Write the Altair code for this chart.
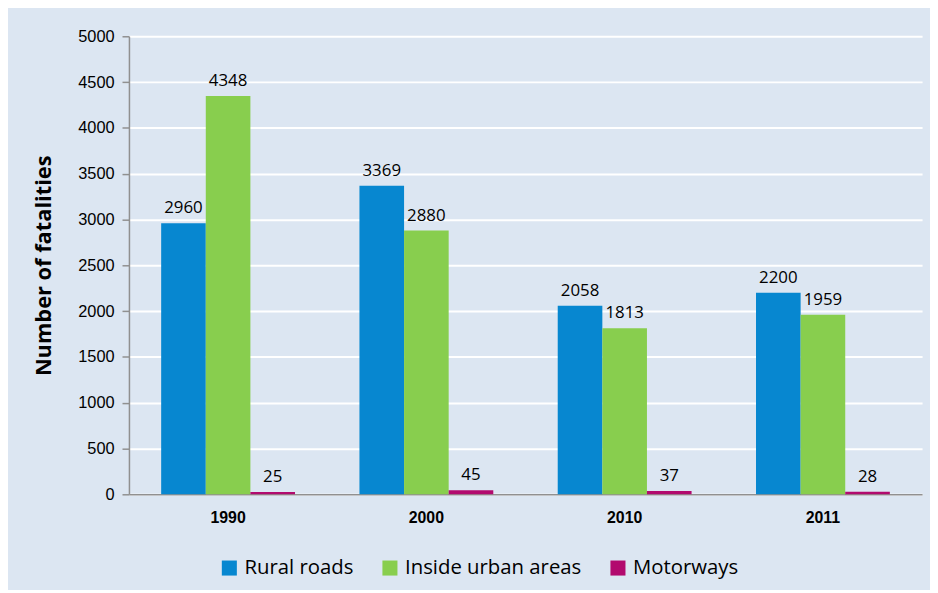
import altair as alt
import pandas as pd

years = ["1990", "2000", "2010", "2011"]
series = ["Rural roads", "Inside urban areas", "Motorways"]
rural = [2960, 3369, 2058, 2200]
urban = [4348, 2880, 1813, 1959]
motorways = [25, 45, 37, 28]
colors = ["#0787d0", "#88ce4e", "#b20a6e"]

rows = []
for i, y in enumerate(years):
    for s, vals in zip(series, [rural, urban, motorways]):
        rows.append({"year": y, "series": s, "value": vals[i]})
df = pd.DataFrame(rows)

x = alt.X("year:N", sort=years, title=None,
          scale=alt.Scale(paddingInner=0.325, paddingOuter=0.1625),
          axis=alt.Axis(labelAngle=0, labelFont="Liberation Sans", labelFontWeight="bold",
                        labelFontSize=16, labelColor="#000", labelPadding=15, ticks=False,
                        domainColor="#909090", domainWidth=1.5))
xo = alt.XOffset("series:N", sort=series, scale=alt.Scale(paddingInner=0, paddingOuter=0))
y = alt.Y("value:Q", title="Number of fatalities",
          scale=alt.Scale(domain=[0, 5000], nice=False),
          axis=alt.Axis(values=list(range(0, 5001, 500)), format="d",
                        labelFont="Liberation Sans",
                        labelFontSize=16.5, labelColor="#000", labelPadding=8,
                        tickSize=7, tickColor="#909090", tickWidth=1.5,
                        domainColor="#909090", domainWidth=1.5,
                        gridColor="#ffffff", gridWidth=2,
                        titleFont="Open Sans", titleFontSize=22, titleFontWeight="bold",
                        titleColor="#000", titlePadding=22))

bars = alt.Chart(df).mark_bar().encode(
    x=x, xOffset=xo, y=y,
    color=alt.Color("series:N", sort=series,
                    scale=alt.Scale(domain=series, range=colors),
                    legend=alt.Legend(title=None, orient="none", direction="horizontal",
                                      legendX=91, legendY=526, symbolType="square",
                                      symbolSize=230, symbolStrokeWidth=0,
                                      labelFont="Open Sans", labelFontSize=20.5, labelLimit=300,
                                      labelColor="#000", columnPadding=26, labelOffset=5)),
)

labels = alt.Chart(df).mark_text(font="Open Sans", fontSize=17, color="#000",
                                 baseline="bottom", dy=-6).encode(
    x=x, xOffset=xo, y=y, text=alt.Text("value:Q"),
)

chart = alt.layer(bars, labels).properties(
    width=800, height=462,
    background="#dce6f2",
    autosize=alt.AutoSizeParams(type="none"),
    padding={"left": 122, "top": 26, "right": 8, "bottom": 94},
).configure_view(stroke=None).configure_axis(grid=False).configure_axisY(grid=True)

chart.save("out.html", embed_options={"renderer": "svg", "actions": False})
